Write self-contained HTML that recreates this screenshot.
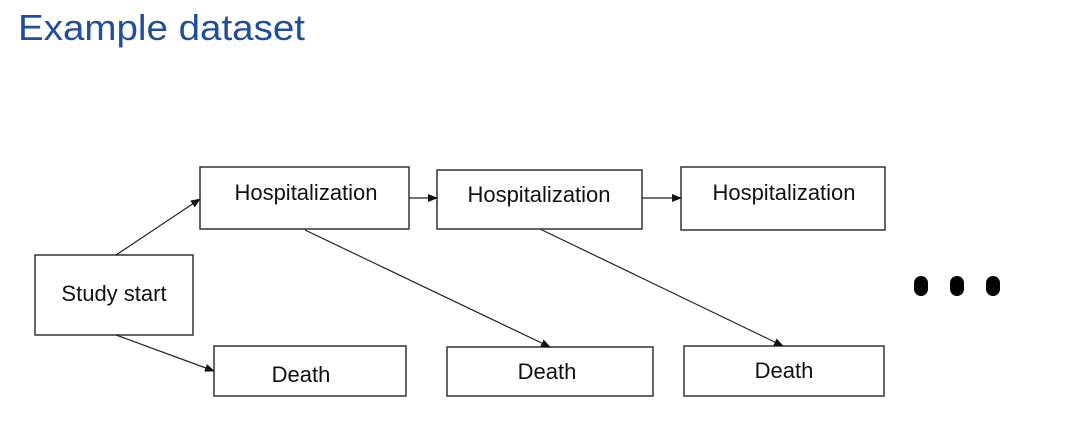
<!DOCTYPE html>
<html><head><style>
body{margin:0;background:#fff;width:1067px;height:433px;overflow:hidden;font-family:"Liberation Sans",sans-serif;}
</style></head><body>
<svg width="1067" height="433" xmlns="http://www.w3.org/2000/svg" style="position:absolute;left:0;top:0">
<defs><marker id="a" markerWidth="10" markerHeight="8" refX="9" refY="4" orient="auto" markerUnits="userSpaceOnUse"><path d="M0,0 L10,4 L0,8 z" fill="#111"/></marker></defs>
<text x="18" y="40" font-size="36" fill="#1f4e9c" textLength="287" lengthAdjust="spacingAndGlyphs" font-family="Liberation Sans, sans-serif">Example dataset</text>
<g fill="#fff" stroke="#333" stroke-width="1.5">
<rect x="35" y="255" width="158" height="80"/>
<rect x="200" y="167" width="209" height="62"/>
<rect x="214" y="346" width="192" height="50"/>
<rect x="437" y="170" width="205" height="59"/>
<rect x="447" y="347" width="206" height="49"/>
<rect x="681" y="167" width="204" height="63"/>
<rect x="684" y="346" width="200" height="50"/>
</g>
<g stroke="#222" stroke-width="1.2" marker-end="url(#a)">
<line x1="116" y1="255" x2="200" y2="199"/>
<line x1="116" y1="335" x2="214" y2="371"/>
<line x1="305" y1="230" x2="550" y2="347"/>
<line x1="540" y1="229" x2="783" y2="346"/>
<line x1="409" y1="198" x2="437" y2="198"/>
<line x1="642" y1="198" x2="681" y2="198"/>
</g>
<g font-size="22" fill="#111" font-family="Liberation Sans, sans-serif" text-anchor="middle">
<text x="114" y="301">Study start</text>
<text x="306" y="200">Hospitalization</text>
<text x="301" y="382">Death</text>
<text x="539" y="202">Hospitalization</text>
<text x="547" y="379">Death</text>
<text x="784" y="200">Hospitalization</text>
<text x="784" y="378">Death</text>
</g>
<g fill="#000">
<rect x="914" y="276" width="14" height="20" rx="7"/>
<rect x="950" y="276" width="14" height="20" rx="7"/>
<rect x="986" y="276" width="14" height="20" rx="7"/>
</g>
</svg>
</body></html>
